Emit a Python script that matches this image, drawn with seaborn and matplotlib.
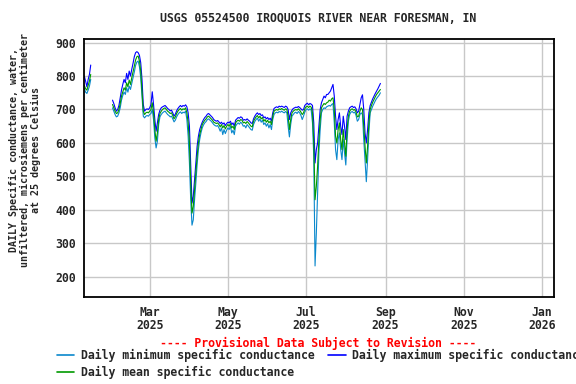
import numpy as np
import pandas as pd
import matplotlib
matplotlib.use("Agg")
import matplotlib.pyplot as plt
import matplotlib.dates as mdates
from matplotlib.lines import Line2D
import seaborn as sns

TITLE = "USGS 05524500 IROQUOIS RIVER NEAR FORESMAN, IN"
YLABEL = "DAILY Specific conductance, water,\nunfiltered, microsiemens per centimeter\nat 25 degrees Celsius"
PROVISIONAL = "---- Provisional Data Subject to Revision ----"
LABEL_MIN = "Daily minimum specific conductance"
LABEL_MAX = "Daily maximum specific conductance"
LABEL_MEAN = "Daily mean specific conductance"

# segment 1: 2025-01-09 .. 2025-01-14
seg1_start = "2025-01-09"
seg1_mean = [772, 762, 758, 772, 785, 805]
seg1_min = [762, 752, 748, 758, 770, 790]
seg1_max = [800, 785, 768, 790, 805, 833]

# segment 2: 2025-01-31 .. 2025-08-28
seg2_start = "2025-01-31"
jan_mean = [715]
jan_min = [705]
jan_max = [728]
feb_mean = [705, 695, 688, 690, 700, 718, 740, 752, 765, 758, 780, 768, 788, 775, 795, 812, 830, 848, 858, 860, 845, 815, 755, 695, 685, 690, 692, 690]
feb_min = [695, 685, 678, 680, 690, 705, 728, 742, 752, 745, 765, 752, 770, 760, 778, 795, 812, 832, 842, 845, 828, 795, 740, 680, 675, 680, 682, 680]
feb_max = [718, 705, 695, 700, 712, 735, 758, 775, 790, 780, 808, 790, 815, 800, 820, 838, 858, 870, 873, 870, 862, 840, 790, 715, 695, 700, 702, 700]
mar_mean = [695, 700, 720, 690, 640, 605, 630, 670, 688, 695, 700, 703, 705, 700, 695, 692, 688, 690, 682, 672, 678, 688, 695, 700, 703, 698, 702, 700, 705, 690, 660]
mar_min = [685, 688, 700, 670, 615, 585, 605, 655, 678, 685, 690, 693, 695, 690, 685, 682, 678, 680, 672, 663, 668, 678, 685, 690, 693, 688, 692, 690, 695, 670, 620]
mar_max = [705, 715, 753, 715, 670, 635, 660, 685, 698, 705, 708, 710, 712, 708, 703, 700, 696, 698, 690, 680, 686, 696, 703, 708, 712, 708, 712, 710, 714, 708, 690]
apr_mean = [600, 480, 390, 410, 460, 510, 560, 600, 625, 640, 655, 662, 668, 672, 678, 680, 676, 672, 668, 662, 660, 658, 660, 655, 648, 655, 645, 652, 642, 650]
apr_min = [540, 430, 354, 370, 430, 480, 535, 580, 610, 630, 645, 654, 660, 664, 670, 672, 668, 665, 660, 655, 652, 650, 652, 645, 635, 645, 625, 640, 628, 638]
apr_max = [650, 530, 420, 440, 490, 540, 590, 620, 640, 652, 662, 670, 676, 680, 686, 688, 684, 680, 676, 670, 667, 665, 667, 663, 658, 662, 656, 660, 652, 658]
may_mean = [655, 650, 658, 645, 650, 640, 660, 665, 668, 665, 670, 668, 660, 662, 658, 664, 660, 655, 650, 648, 665, 672, 678, 682, 675, 680, 672, 676, 665, 670, 662]
may_min = [645, 640, 650, 630, 638, 625, 650, 656, 660, 656, 662, 658, 650, 652, 645, 655, 650, 645, 640, 638, 655, 664, 670, 674, 665, 672, 662, 668, 655, 660, 650]
may_max = [662, 660, 665, 655, 660, 650, 668, 672, 676, 674, 678, 676, 668, 670, 668, 672, 668, 665, 660, 658, 672, 680, 686, 690, 685, 688, 682, 684, 675, 678, 672]
jun_mean = [668, 660, 665, 655, 680, 695, 698, 700, 698, 702, 700, 703, 700, 698, 702, 700, 680, 640, 670, 690, 695, 698, 700, 698, 702, 698, 692, 685, 690, 702]
jun_min = [658, 645, 655, 640, 670, 685, 690, 692, 690, 694, 692, 695, 692, 690, 694, 690, 650, 618, 655, 680, 685, 690, 692, 688, 694, 690, 682, 670, 680, 692]
jun_max = [676, 670, 674, 665, 690, 703, 706, 708, 706, 710, 708, 710, 708, 706, 710, 708, 700, 670, 690, 698, 703, 705, 707, 706, 709, 706, 702, 698, 700, 712]
jul_mean = [708, 710, 706, 710, 707, 690, 600, 430, 470, 530, 610, 670, 705, 712, 718, 715, 720, 722, 728, 725, 732, 735, 700, 620, 600, 640, 660, 610, 580, 640, 600]
jul_min = [700, 702, 698, 702, 698, 660, 560, 232, 330, 450, 570, 640, 690, 700, 705, 703, 708, 710, 712, 710, 715, 718, 660, 580, 550, 610, 630, 580, 550, 610, 570]
jul_max = [716, 719, 714, 718, 716, 712, 660, 540, 580, 600, 650, 700, 720, 730, 740, 735, 745, 745, 750, 755, 765, 775, 740, 680, 640, 670, 690, 650, 625, 680, 650]
aug_mean = [560, 640, 680, 695, 700, 702, 698, 700, 692, 678, 680, 695, 705, 700, 650, 590, 540, 590, 660, 700, 712, 722, 730, 738, 745, 750, 755, 760]
aug_min = [534, 610, 665, 685, 692, 694, 690, 692, 682, 665, 670, 685, 690, 685, 610, 545, 484, 550, 630, 690, 700, 710, 718, 726, 733, 738, 743, 750]
aug_max = [610, 680, 695, 705, 708, 710, 706, 708, 702, 690, 695, 715, 735, 744, 700, 630, 600, 640, 690, 712, 722, 732, 740, 748, 755, 762, 770, 778]

seg2_mean = jan_mean + feb_mean + mar_mean + apr_mean + may_mean + jun_mean + jul_mean + aug_mean
seg2_min = jan_min + feb_min + mar_min + apr_min + may_min + jun_min + jul_min + aug_min
seg2_max = jan_max + feb_max + mar_max + apr_max + may_max + jun_max + jul_max + aug_max

COL_MIN = "#0a88cc"
COL_MAX = "#0000ff"
COL_MEAN = "#009a00"

frames = []
for seg, start, series in [
    (1, seg1_start, {LABEL_MIN: seg1_min, LABEL_MAX: seg1_max, LABEL_MEAN: seg1_mean}),
    (2, seg2_start, {LABEL_MIN: seg2_min, LABEL_MAX: seg2_max, LABEL_MEAN: seg2_mean}),
]:
    for name, vals in series.items():
        frames.append(pd.DataFrame({
            "date": pd.date_range(start, periods=len(vals), freq="D"),
            "value": vals,
            "series": name,
            "segment": seg,
        }))
df = pd.concat(frames, ignore_index=True)

sns.set_style("white")
plt.rcParams["font.family"] = ["DejaVu Sans Mono"]
plt.rcParams["font.weight"] = "bold"

fig = plt.figure(figsize=(5.76, 3.84), dpi=100)
ax = fig.add_axes([84 / 576, 1 - 296.7 / 384, (554 - 84) / 576, (296.7 - 39.3) / 384])

sns.lineplot(data=df, x="date", y="value", hue="series", units="segment", estimator=None,
             hue_order=[LABEL_MIN, LABEL_MAX, LABEL_MEAN],
             palette={LABEL_MIN: COL_MIN, LABEL_MAX: COL_MAX, LABEL_MEAN: COL_MEAN},
             linewidth=0.8, legend=False, ax=ax, sort=True)

ax.set_xlim(pd.Timestamp("2025-01-08 18:00"), pd.Timestamp("2026-01-10 10:00"))
ax.set_ylim(140, 910)
ax.set_yticks([200, 300, 400, 500, 600, 700, 800, 900])
ax.xaxis.set_major_locator(mdates.MonthLocator(bymonth=[1, 3, 5, 7, 9, 11]))
ax.xaxis.set_major_formatter(mdates.DateFormatter("%b\n%Y"))
ax.grid(True, color="#c8c8c8", linewidth=1.0)
ax.set_axisbelow(True)
ax.tick_params(length=0, labelsize=8.3, pad=5.5)
for lab in ax.get_xticklabels():
    lab.set_linespacing(1.05)
ax.tick_params(axis="x", pad=6.5)
for s in ax.spines.values():
    s.set_color("black")
    s.set_linewidth(1.3)
ax.set_xlabel("")
ax.set_ylabel("")

fig.text(318 / 576, 1 - 19 / 384, TITLE, ha="center", va="center", fontsize=8.3, fontweight="bold")
fig.text(25 / 576, 1 - 150 / 384, YLABEL, ha="center", va="center", rotation=90,
         fontsize=7.2, fontweight="bold", multialignment="center", linespacing=1.15)
fig.text(318 / 576, 1 - 343 / 384, PROVISIONAL, ha="center", va="center", fontsize=8.3,
         fontweight="bold", color="red")

handles = [Line2D([], [], color=COL_MIN, lw=1.2), Line2D([], [], color=COL_MEAN, lw=1.2),
           Line2D([], [], color=COL_MAX, lw=1.2)]
labels = [LABEL_MIN, LABEL_MEAN, LABEL_MAX]
fig.legend(handles, labels, ncol=2, loc="upper left", bbox_to_anchor=(57 / 576, 1 - 349 / 384),
           frameon=False, borderpad=0, borderaxespad=0, handlelength=1.5, handletextpad=0.55,
           columnspacing=1.2, labelspacing=0.3, prop={"family": "DejaVu Sans Mono", "weight": "bold", "size": 8.3})

fig.savefig("out.png", dpi=100)
